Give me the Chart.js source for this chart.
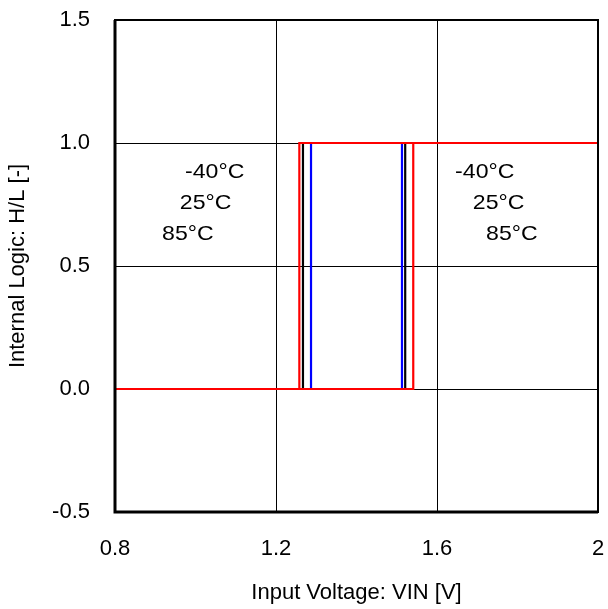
<!DOCTYPE html>
<html>
<head>
<meta charset="utf-8">
<script src="https://cdn.jsdelivr.net/npm/chart.js@4/dist/chart.umd.min.js"></script>
<style>
  body { margin: 0; background: #fff; }
  #wrap { width: 608px; height: 609px; }
</style>
</head>
<body>
<div id="wrap"><canvas id="myChart" width="608" height="609"></canvas></div>
<script>
// temperatures and their switching thresholds [V]
const temps = ['-40°C', '25°C', '85°C'];
const riseV = [1.513, 1.521, 1.541];   // L -> H
const fallV = [1.287, 1.267, 1.258];   // H -> L
const logicLow = 0;
const logicHigh = 1;
const vinStart = 0.8;
const vinEnd = 2.0;
const colors = ['#0000ff', '#000000', '#ff0000'];

// loop: sweep up, then back down
function loop(i) {
  return [
    { x: vinStart, y: logicLow },
    { x: riseV[i], y: logicLow },
    { x: riseV[i], y: logicHigh },
    { x: vinEnd, y: logicHigh },
    { x: fallV[i], y: logicHigh },
    { x: fallV[i], y: logicLow },
    { x: vinStart, y: logicLow }
  ];
}

const data = {
  datasets: temps.map((t, i) => ({
    label: t,
    data: loop(i),
    showLine: true,
    borderColor: colors[i],
    borderWidth: 2.2,
    pointRadius: 0,
    order: temps.length - i   // red on top
  }))
};

// temperature text in the plot, x/y in data units
const tempLabels = [
  { x: 0.974, y: 0.88 }, { x: 0.961, y: 0.755 }, { x: 0.917, y: 0.63 },
  { x: 1.645, y: 0.88 }, { x: 1.689, y: 0.755 }, { x: 1.722, y: 0.63 }
];

const tempText = {
  id: 'tempText',
  afterDatasetsDraw(chart) {
    const { ctx, scales: { x, y } } = chart;
    ctx.save();
    ctx.fillStyle = '#000';
    ctx.font = '21px "Liberation Sans", Arial, sans-serif';
    ctx.textAlign = 'left';
    ctx.textBaseline = 'middle';
    tempLabels.forEach((p, k) => {
      const px = x.getPixelForValue(p.x);
      const py = y.getPixelForValue(p.y);
      ctx.save();
      ctx.translate(px, py);
      ctx.scale(1.1, 1);
      ctx.fillText(temps[k % 3], 0, 0);
      ctx.restore();
    });
    ctx.restore();
  }
};

// plot frame
const frame = {
  id: 'frame',
  afterDraw(chart) {
    const { ctx, chartArea: { top, bottom, left, right } } = chart;
    ctx.save();
    ctx.strokeStyle = '#000';
    ctx.lineWidth = 2;
    ctx.strokeRect(left, top, right - left, bottom - top);
    ctx.lineWidth = 3;
    ctx.beginPath();
    ctx.moveTo(left, top);
    ctx.lineTo(left, bottom);
    ctx.lineTo(right, bottom);
    ctx.stroke();
    ctx.restore();
  }
};

const tickFont = { family: '"Liberation Sans", Arial, sans-serif', size: 22 };
const titleFont = { family: '"Liberation Sans", Arial, sans-serif', size: 22 };

const config = {
  type: 'scatter',
  data,
  options: {
    responsive: false,
    animation: false,
    layout: { padding: { top: 20, right: 10, left: 0, bottom: 0 } },
    plugins: {
      legend: { display: false },
      tooltip: { enabled: false }
    },
    scales: {
      x: {
        type: 'linear',
        min: 0.8,
        max: 2.0,
        ticks: {
          stepSize: 0.4,
          color: '#000',
          font: tickFont,
          padding: 24,
          callback: v => String(Number(v.toFixed(1)))
        },
        grid: { color: '#000', lineWidth: 1, drawTicks: false },
        border: { display: false },
        title: {
          display: true,
          text: 'Input Voltage: VIN [V]',
          color: '#000',
          font: titleFont,
          padding: { top: 0, bottom: 3 }
        },
        afterFit(scale) {
          scale.height = 97;
          scale.paddingLeft = 0;
          scale.paddingRight = 0;
        }
      },
      y: {
        min: -0.5,
        max: 1.5,
        ticks: {
          stepSize: 0.5,
          color: '#000',
          font: tickFont,
          padding: 25,
          callback: v => v.toFixed(1)
        },
        grid: { color: '#000', lineWidth: 1, drawTicks: false },
        border: { display: false },
        title: {
          display: true,
          text: 'Internal Logic: H/L [-]',
          color: '#000',
          font: titleFont,
          padding: { top: 5, bottom: 0 }
        },
        afterFit(scale) {
          scale.width = 115;
          scale.paddingTop = 0;
          scale.paddingBottom = 0;
        }
      }
    }
  },
  plugins: [tempText, frame]
};

const myChart = new Chart(document.getElementById('myChart'), config);
</script>
</body>
</html>
